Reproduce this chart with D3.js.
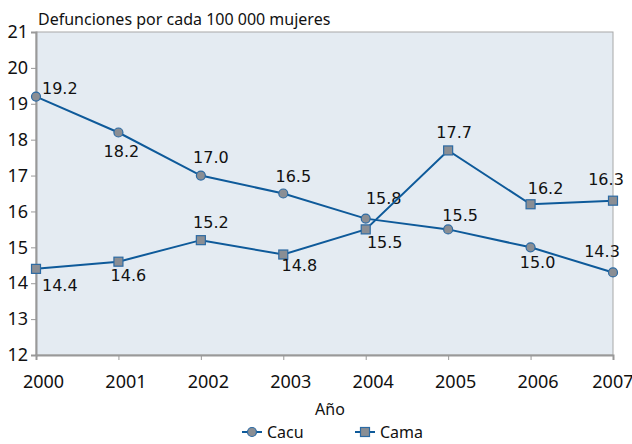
<!DOCTYPE html>
<html>
<head>
<meta charset="utf-8">
<script src="https://cdn.jsdelivr.net/npm/d3@7"></script>
<style>
  body { margin: 0; background: #fff; }
  .tick text { font-family: "Noto Sans", sans-serif; font-size: 18px; fill: #111; }
  .lbl { font-family: "DejaVu Sans", sans-serif; font-size: 16px; fill: #111; }
</style>
</head>
<body>
<svg id="chart" width="632" height="444"></svg>
<script>
var years = [2000, 2001, 2002, 2003, 2004, 2005, 2006, 2007];
var cacu = [19.2, 18.2, 17.0, 16.5, 15.8, 15.5, 15.0, 14.3];
var cama = [14.4, 14.6, 15.2, 14.8, 15.5, 17.7, 16.2, 16.3];
var yTicks = [12, 13, 14, 15, 16, 17, 18, 19, 20, 21];

// where each value label sits relative to its marker [dx, dy, anchor]
var cacuLbl = [[6,-3,"start"],[3,25,"middle"],[10,-13,"middle"],[10,-12,"middle"],[18,-15,"middle"],[12,-8,"middle"],[7,21,"middle"],[-11,-15,"middle"]];
var camaLbl = [[6,22,"start"],[10,19,"middle"],[10,-12,"middle"],[16,16,"middle"],[19,19,"middle"],[6,-12,"middle"],[15,-10,"middle"],[-7,-16,"middle"]];

var svg = d3.select("#chart");
var pl = 36, pr = 613, pt = 32, pb = 355;
var blue = "#0e5a9a";

var x = d3.scalePoint().domain(years).range([pl, pr]);
var y = d3.scaleLinear().domain([12, 21]).range([pb, pt]);

svg.append("rect")
   .attr("x", pl).attr("y", pt)
   .attr("width", pr - pl).attr("height", pb - pt)
   .attr("fill", "#e4ebf2")
   .attr("stroke", "#a8a8a8").attr("stroke-width", 1);

var yAxis = svg.append("g")
   .attr("transform", "translate(" + pl + ",0)")
   .call(d3.axisLeft(y).tickValues(yTicks).tickSize(5).tickPadding(3));
var xAxis = svg.append("g")
   .attr("transform", "translate(0," + pb + ")")
   .call(d3.axisBottom(x).tickSize(5).tickPadding(15));
svg.selectAll(".domain").attr("stroke", "#999").attr("stroke-width", 2);
svg.selectAll(".tick line").attr("stroke", "#999");
xAxis.selectAll(".tick text").attr("dx", 7);
xAxis.selectAll(".tick text").filter(function(d){ return d == 2007; })
     .attr("text-anchor", "end").attr("dx", 20);

svg.append("text")
   .attr("x", 38).attr("y", 25)
   .attr("font-family", "Noto Sans, sans-serif")
   .attr("font-size", "16px").attr("fill", "#111")
   .text("Defunciones por cada 100 000 mujeres");

svg.append("text")
   .attr("x", 330).attr("y", 415)
   .attr("text-anchor", "middle")
   .attr("font-family", "Noto Sans, sans-serif")
   .attr("font-size", "16px").attr("fill", "#111")
   .text("Año");

var line = d3.line()
   .x(function(d, i){ return x(years[i]); })
   .y(function(d){ return y(d); });

function series(vals, shape, lbls) {
  svg.append("path").datum(vals)
     .attr("d", line).attr("fill", "none")
     .attr("stroke", blue).attr("stroke-width", 2);
  var g = svg.append("g");
  if (shape == "circle") {
    g.selectAll("circle").data(vals).enter().append("circle")
     .attr("cx", function(d, i){ return x(years[i]); })
     .attr("cy", function(d){ return y(d); })
     .attr("r", 4.5)
     .attr("fill", "#8a8e94").attr("stroke", "#2c6aa3").attr("stroke-width", 1.2);
  } else {
    g.selectAll("rect").data(vals).enter().append("rect")
     .attr("x", function(d, i){ return x(years[i]) - 4.5; })
     .attr("y", function(d){ return y(d) - 4.5; })
     .attr("width", 9).attr("height", 9)
     .attr("fill", "#8a8e94").attr("stroke", "#2c6aa3").attr("stroke-width", 1.2);
  }
  svg.append("g").selectAll("text").data(vals).enter().append("text")
     .attr("class", "lbl")
     .attr("x", function(d, i){ return x(years[i]) + lbls[i][0]; })
     .attr("y", function(d, i){ return y(d) + lbls[i][1]; })
     .attr("text-anchor", function(d, i){ return lbls[i][2]; })
     .text(function(d){ return d.toFixed(1); });
}
series(cacu, "circle", cacuLbl);
series(cama, "square", camaLbl);

// legend
var legend = [["Cacu", "circle", 242], ["Cama", "square", 355]];
legend.forEach(function(l){
  var lg = svg.append("g").attr("transform", "translate(" + l[2] + ",432)");
  lg.append("line").attr("x1", 0).attr("x2", 20).attr("stroke", blue).attr("stroke-width", 2);
  if (l[1] == "circle")
    lg.append("circle").attr("cx", 10).attr("r", 4.5)
      .attr("fill", "#8a8e94").attr("stroke", "#2c6aa3").attr("stroke-width", 1.2);
  else
    lg.append("rect").attr("x", 5.5).attr("y", -4.5).attr("width", 9).attr("height", 9)
      .attr("fill", "#8a8e94").attr("stroke", "#2c6aa3").attr("stroke-width", 1.2);
  lg.append("text").attr("x", 25).attr("y", 5.5)
    .attr("font-family", "Noto Sans, sans-serif").attr("font-size", "16px").attr("fill", "#111")
    .text(l[0]);
});
</script>
</body>
</html>
